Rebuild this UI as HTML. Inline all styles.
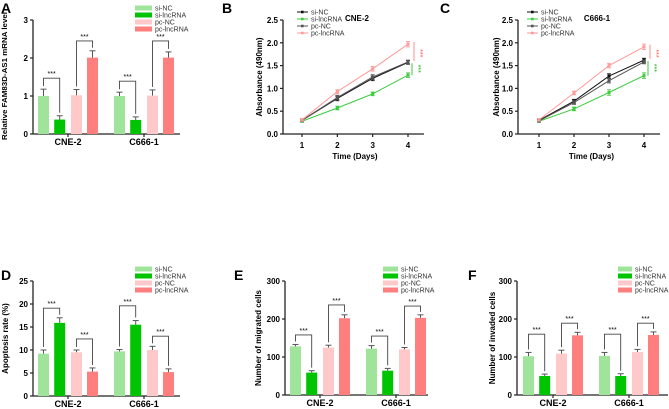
<!DOCTYPE html>
<html><head><meta charset="utf-8"><style>
html,body{margin:0;padding:0;background:#fff}
svg{display:block;font-family:"Liberation Sans",Arial,sans-serif}
</style></head><body>
<svg id="fig" width="669" height="409" viewBox="0 0 669 409"></svg>
<script>
// ---------- data ----------
const groups = ["CNE-2","C666-1"];
const seriesNames = ["si-NC","si-lncRNA","pc-NC","pc-lncRNA"];
const barColors = ["#a0e49c","#00c400","#ffc9c9","#ff7f7f"];
// Panel A
const aVals = [[1.0,0.38,1.02,2.01],[1.0,0.37,1.01,2.01]];
const aErr  = [[0.18,0.1,0.15,0.18],[0.1,0.08,0.15,0.15]];
const aBrk  = [[1.47,2.45],[1.39,2.45]];
const aTicks = [0,1,2,3];
// Panel D
const dVals = [[9.2,15.9,9.5,5.3],[9.7,15.5,10.0,5.2]];
const dErr  = [[0.8,1.1,0.5,0.8],[0.4,0.9,0.8,0.7]];
const dBrk  = [[19.1,12.4],[19.6,13.0]];
const dTicks = [0,5,10,15,20,25];
// Panel E
const eVals = [[128,59,125,202],[122,64,120,203]];
const eErr  = [[5,5,6,9],[8,6,5,8]];
const eBrk  = [[158,237],[155,234]];
const eTicks = [0,100,200,300];
// Panel F
const fVals = [[102,50,109,157],[103,50,113,158]];
const fErr  = [[10,5,9,8],[9,6,7,8]];
const fBrk  = [[160,189],[160,189]];
const fTicks = [0,100,200,300];
// Line panels
const days = [1,2,3,4];
const lineTicks = [0,0.5,1.0,1.5,2.0,2.5];
const lineColors = ["#111","#3ccc3c","#555","#ff9a9a"];
const bSeries = [[0.30,0.78,1.22,1.57],[0.28,0.57,0.88,1.29],[0.30,0.80,1.25,1.58],[0.31,0.93,1.43,1.97]];
const bErr = [[0.03,0.05,0.05,0.04],[0.02,0.04,0.04,0.05],[0.03,0.05,0.05,0.04],[0.03,0.04,0.05,0.06]];
const cSeries = [[0.30,0.72,1.27,1.62],[0.28,0.55,0.91,1.28],[0.29,0.69,1.17,1.58],[0.31,0.90,1.50,1.91]];
const cErr = [[0.03,0.04,0.05,0.04],[0.02,0.04,0.06,0.06],[0.03,0.04,0.05,0.04],[0.03,0.04,0.05,0.06]];

// ---------- helpers ----------
const NS="http://www.w3.org/2000/svg";
const svg=document.getElementById('fig');
function mk(tag,attrs,parent,text){
  const e=document.createElementNS(NS,tag);
  for(const k in attrs)e.setAttribute(k,attrs[k]);
  if(text!==undefined)e.textContent=text;
  (parent||svg).appendChild(e);return e;
}
function line(p,x1,y1,x2,y2,c,w){return mk('line',{x1,y1,x2,y2,stroke:c||'#222','stroke-width':w||1},p);}

function barPanel(cfg){
  const g=mk('g',{});
  
  
  const ys=v=>cfg.y0-(v/cfg.ymax)*(cfg.y0-cfg.yTop);
  const L=mk('text',{x:cfg.letterX,y:cfg.letterY,'font-size':14,'font-weight':'bold'},g,cfg.letter);
  
  
  line(g,cfg.ax,cfg.yTop,cfg.ax,cfg.y0,'#222',1.3);
  line(g,cfg.ax,cfg.y0,cfg.axEnd,cfg.y0,'#222',1.3);
  cfg.ticks.forEach(t=>{
    const y=ys(t);line(g,cfg.ax-3,y,cfg.ax,y,'#222',1.2);
    const tl=mk('text',{x:cfg.ax-5,y:y+3,'font-size':8,'font-weight':'bold','text-anchor':'end'},g,String(t));
    
    
  });
  const ta={x:0,y:0,'font-size':cfg.titleSize||8,'font-weight':'bold','text-anchor':'middle',transform:`translate(${cfg.titleX},${cfg.titleCY||(cfg.y0+cfg.yTop)/2}) rotate(-90)`};
  if(cfg.titleLen){ta.textLength=cfg.titleLen;ta.lengthAdjust='spacingAndGlyphs';}
  const yt=mk('text',ta,g,cfg.ytitle);
  
  
  const offs=[-24.5,-8.3,8.5,24.5];
  groups.forEach((gn,gi)=>{
    const cx=cfg.g0+gi*76;
    line(g,cx,cfg.y0,cx,cfg.y0+3,'#222',1.2);
    const cl=mk('text',{x:cx,y:cfg.y0+11,'font-size':9,'font-weight':'bold','text-anchor':'middle'},g,gn);
    
    
    const tops=[];
    cfg.vals[gi].forEach((v,si)=>{
      const bx=cx+offs[si];
      const r=mk('rect',{x:bx-5.5,y:ys(v),width:11,height:cfg.y0-ys(v),fill:barColors[si]},g);
      
      
      const et=ys(v+cfg.err[gi][si]);
      line(g,bx,ys(v),bx,et,'#555',1);line(g,bx-3,et,bx+3,et,'#555',1);
      tops.push(et);
    });
    [[0,1],[2,3]].forEach((pr,bi)=>{
      const by=ys(cfg.brk[gi][bi]);
      const x1=cx+offs[pr[0]],x2=cx+offs[pr[1]];
      const p=mk('path',{d:`M${x1},${tops[pr[0]]-3}V${by}H${x2}V${tops[pr[1]]-3}`,fill:'none',stroke:'#444','stroke-width':0.9},g);
      
      
      const s=mk('text',{x:(x1+x2)/2,y:by-2,'font-size':7,'text-anchor':'middle'},g,'***');
      
      
    });
  });
  seriesNames.forEach((n,i)=>{
    const y=cfg.legY+i*7;
    const r=mk('rect',{x:cfg.legX,y:y-2.5,width:cfg.legW,height:5,fill:barColors[i]},g);
    
    
    const t=mk('text',{x:cfg.legX+cfg.legW+3,y:y+2.5,'font-size':7,fill:'#333'},g,n);
    
    
  });
}

function linePanel(cfg){
  const g=mk('g',{});
  
  
  const ys=v=>cfg.y0-(v/2.5)*(cfg.y0-cfg.yTop);
  const xs=d=>cfg.x1+(d-1)*(cfg.x4-cfg.x1)/3;
  const L=mk('text',{x:cfg.letterX,y:cfg.letterY,'font-size':14,'font-weight':'bold'},g,cfg.letter);
  
  
  line(g,cfg.ax,cfg.yTop,cfg.ax,cfg.y0,'#222',1.3);
  line(g,cfg.ax,cfg.y0,cfg.axEnd,cfg.y0,'#222',1.3);
  lineTicks.forEach(t=>{
    const y=ys(t);line(g,cfg.ax-3,y,cfg.ax,y,'#222',1.2);
    const tl=mk('text',{x:cfg.ax-5,y:y+3,'font-size':8,'font-weight':'bold','text-anchor':'end'},g,t.toFixed(1));
    
    
  });
  days.forEach(d=>{
    const x=xs(d);line(g,x,cfg.y0,x,cfg.y0+3,'#222',1.2);
    const tl=mk('text',{x:x,y:cfg.y0+14,'font-size':8,'font-weight':'bold','text-anchor':'middle'},g,String(d));
    
    
  });
  const xt=mk('text',{x:(cfg.x1+cfg.x4)/2,y:cfg.y0+25,'font-size':8,'font-weight':'bold','text-anchor':'middle'},g,'Time (Days)');
  
  
  const yt=mk('text',{x:0,y:0,'font-size':8,'font-weight':'bold','text-anchor':'middle',transform:`translate(${cfg.titleX},${(cfg.y0+cfg.yTop)/2}) rotate(-90)`},g,'Absorbance (490nm)');
  
  
  const tt=mk('text',{x:cfg.titleCX,y:21,'font-size':8,'font-weight':'bold','text-anchor':'middle'},g,cfg.title);
  
  
  cfg.series.forEach((s,si)=>{
    const pts=s.map((v,i)=>xs(days[i])+','+ys(v)).join(' ');
    const pl=mk('polyline',{points:pts,fill:'none',stroke:lineColors[si],'stroke-width':1},g);
    
    
    s.forEach((v,i)=>{
      const x=xs(days[i]),e=cfg.err[si][i];
      line(g,x,ys(v-e),x,ys(v+e),lineColors[si],0.9);
      line(g,x-2,ys(v+e),x+2,ys(v+e),lineColors[si],0.9);
      line(g,x-2,ys(v-e),x+2,ys(v-e),lineColors[si],0.9);
      const m=mk('rect',{x:x-1.5,y:ys(v)-1.5,width:3,height:3,fill:lineColors[si]},g);
      
      
    });
  });
  const s4=cfg.series;
  const rx=xs(4)+6, gx=xs(4)+4;
  line(g,rx,ys(s4[3][3]+0.05),rx,ys(s4[0][3]+0.03),'#ff8080',0.9);
  line(g,gx,ys(s4[0][3]-0.02),gx,ys(s4[1][3]),'#30c030',0.9);
  const st1=mk('text',{x:0,y:0,'font-size':7,fill:'#ff5050','text-anchor':'middle',transform:`translate(${rx+4},${ys((s4[3][3]+s4[0][3])/2)}) rotate(90)`},g,'***');
  
  
  const st2=mk('text',{x:0,y:0,'font-size':7,fill:'#20b020','text-anchor':'middle',transform:`translate(${gx+4},${ys((s4[1][3]+s4[0][3])/2)}) rotate(90)`},g,'***');
  
  
  seriesNames.forEach((n,i)=>{
    const y=cfg.legY+i*7;
    line(g,cfg.legX,y,cfg.legX+11,y,lineColors[i],1);
    mk('rect',{x:cfg.legX+4,y:y-1.3,width:2.6,height:2.6,fill:lineColors[i]},g);
    const t=mk('text',{x:cfg.legX+14,y:y+2.5,'font-size':7,fill:'#333'},g,n);
    
    
  });
}

barPanel({name:'panel-a-mrna-chart',letter:'A',letterX:1,letterY:13,ax:33,y0:134,yTop:20,ymax:3,axEnd:180,ticks:aTicks,
  ytitle:'Relative FAM83D-AS1 mRNA level',titleX:7,titleCY:76,titleSize:7.5,titleLen:128,g0:68,vals:aVals,err:aErr,brk:aBrk,legX:135,legY:8,legW:17});
barPanel({name:'panel-d-apoptosis-chart',letter:'D',letterX:1,letterY:280,ax:33,y0:396,yTop:281,ymax:25,axEnd:180,ticks:dTicks,
  ytitle:'Apoptosis rate (%)',titleX:8,g0:68,vals:dVals,err:dErr,brk:dBrk,legX:135,legY:269,legW:17});
barPanel({name:'panel-e-migration-chart',letter:'E',letterX:234,letterY:280,ax:285,y0:395,yTop:281,ymax:300,axEnd:428,ticks:eTicks,
  ytitle:'Number of migrated cells',titleX:261,g0:320,vals:eVals,err:eErr,brk:eBrk,legX:383,legY:269,legW:15});
barPanel({name:'panel-f-invasion-chart',letter:'F',letterX:468,letterY:280,ax:517,y0:395,yTop:281,ymax:300,axEnd:668,ticks:fTicks,
  ytitle:'Number of invaded cells',titleX:495,g0:553,vals:fVals,err:fErr,brk:fBrk,legX:618,legY:269,legW:14});
linePanel({name:'panel-b-cne2-growth',letter:'B',letterX:222,letterY:13,ax:283,y0:134,yTop:20,axEnd:424,x1:302,x4:408,
  titleX:262,title:'CNE-2',titleCX:357,series:bSeries,err:bErr,legX:297,legY:12});
linePanel({name:'panel-c-c6661-growth',letter:'C',letterX:440,letterY:13,ax:518,y0:134,yTop:20,axEnd:660,x1:539,x4:644,
  titleX:499,title:'C666-1',titleCX:597,series:cSeries,err:cErr,legX:527,legY:12});
</script>
</body></html>
